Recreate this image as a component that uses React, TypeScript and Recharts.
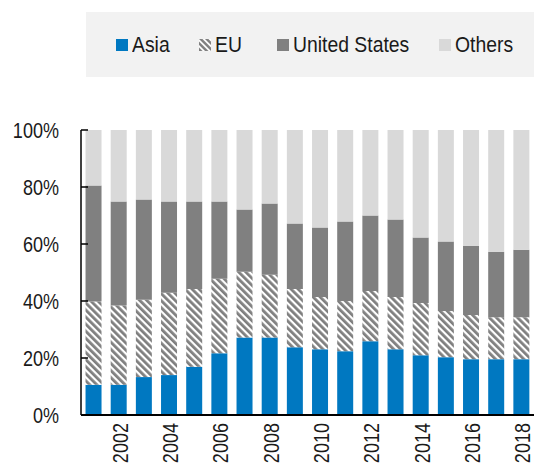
import React from 'react';
import { BarChart, Bar, XAxis, YAxis } from 'recharts';

const years = [2001, 2002, 2003, 2004, 2005, 2006, 2007, 2008, 2009, 2010, 2011, 2012, 2013, 2014, 2015, 2016, 2017, 2018];
const asia = [10.6, 10.6, 13.3, 14.0, 16.9, 21.7, 27.2, 27.2, 23.8, 23.1, 22.4, 25.9, 23.1, 21.0, 20.3, 19.6, 19.6, 19.6];
const eu = [29.2, 27.8, 27.1, 28.9, 27.3, 26.1, 23.1, 22.0, 20.4, 18.3, 17.6, 17.6, 18.3, 18.3, 16.2, 15.5, 14.7, 14.7];
const us = [40.7, 36.5, 35.2, 32.0, 30.7, 27.1, 21.8, 25.0, 23.0, 24.4, 27.9, 26.5, 27.2, 23.0, 24.4, 24.3, 23.0, 23.7];
const others = [19.5, 25.1, 24.4, 25.1, 25.1, 25.1, 27.9, 25.8, 32.8, 34.2, 32.1, 30.0, 31.4, 37.7, 39.1, 40.6, 42.7, 42.0];
const yTicks = [0, 20, 40, 60, 80, 100];

// no narrow font installed, so squeeze Liberation Sans horizontally
const FONT = '"Liberation Sans", Arial, sans-serif';
const SQUEEZE = 0.82;

const series = [
  { key: 'asia', name: 'Asia', fill: '#0078c1' },
  { key: 'eu', name: 'EU', fill: 'url(#euStripes)' },
  { key: 'us', name: 'United States', fill: '#808080' },
  { key: 'others', name: 'Others', fill: '#d9d9d9' },
];
const legendItemWidths = [83, 78, 162, 80];

const data = years.map((y, i) => ({
  year: y,
  asia: asia[i],
  eu: eu[i],
  us: us[i],
  others: others[i],
}));

const YTick = (props: any) => {
  const { x, y, payload } = props;
  return (
    <g>
      <text
        transform={`translate(${x}, ${y}) scale(${SQUEEZE}, 1)`}
        dy="0.36em"
        textAnchor="end"
        fill="#1a1a1a"
        fontSize={22}
        fontFamily={FONT}
      >
        {payload.value}%
      </text>
      <line x1={x + 22} x2={x + 29} y1={y} y2={y} stroke="#000" strokeWidth={1.5} />
    </g>
  );
};

const XTick = (props: any) => {
  const { x, y, payload } = props;
  if (payload.value % 2 !== 0) return null;
  return (
    <text
      transform={`translate(${x + 1}, ${y}) rotate(-90) scale(${SQUEEZE}, 1)`}
      dy="0.36em"
      textAnchor="end"
      fill="#1a1a1a"
      fontSize={22}
      fontFamily={FONT}
    >
      {payload.value}
    </text>
  );
};

const Swatch = ({ fill }: { fill: string }) => (
  <svg width={12} height={12} style={{ marginRight: 4, flex: 'none' }}>
    <defs>
      <pattern id="euStripesLegend" patternUnits="userSpaceOnUse" width={4.2} height={4.2} patternTransform="rotate(-45)">
        <rect width={4.2} height={4.2} fill="#fff" />
        <rect width={2.4} height={4.2} fill="#7f7f7f" />
      </pattern>
    </defs>
    <rect width={12} height={12} fill={fill === 'url(#euStripes)' ? 'url(#euStripesLegend)' : fill} />
  </svg>
);

export default function App() {
  return (
    <div style={{ position: 'absolute', left: 0, top: 0, width: 534, height: 466, background: '#fff', overflow: 'hidden' }}>
      <div
        style={{
          position: 'absolute',
          left: 86,
          top: 12,
          width: 448,
          height: 65,
          background: '#f2f2f2',
          display: 'flex',
          alignItems: 'center',
          paddingLeft: 30,
          boxSizing: 'border-box',
          fontFamily: FONT,
          fontSize: 22,
          color: '#1a1a1a',
        }}
      >
        {series.map((s, i) => (
          <div key={s.key} style={{ display: 'flex', alignItems: 'center', width: legendItemWidths[i], flex: 'none', whiteSpace: 'nowrap' }}>
            <Swatch fill={s.fill} />
            <span style={{ display: 'inline-block', transform: 'scaleX(0.88)', transformOrigin: 'left center' }}>{s.name}</span>
          </div>
        ))}
      </div>
      <BarChart
        width={534}
        height={466}
        data={data}
        margin={{ top: 130, right: 0, bottom: 0, left: 8 }}
        barCategoryGap="18%"
      >
        <defs>
          <pattern id="euStripes" patternUnits="userSpaceOnUse" width={5} height={5} patternTransform="rotate(-45)">
            <rect width={5} height={5} fill="#fff" />
            <rect width={2.8} height={5} fill="#7f7f7f" />
          </pattern>
        </defs>
        <XAxis
          dataKey="year"
          interval={0}
          tickLine={false}
          axisLine={{ stroke: '#000', strokeWidth: 2 }}
          height={51}
          tick={<XTick />}
        />
        <YAxis
          domain={[0, 100]}
          ticks={yTicks}
          width={73}
          tickLine={false}
          tickSize={0}
          tickMargin={22}
          axisLine={{ stroke: '#000', strokeWidth: 1.5 }}
          tick={<YTick />}
        />
        {series.map((s) => (
          <Bar key={s.key} dataKey={s.key} name={s.name} stackId="a" fill={s.fill} isAnimationActive={false} />
        ))}
      </BarChart>
    </div>
  );
}
